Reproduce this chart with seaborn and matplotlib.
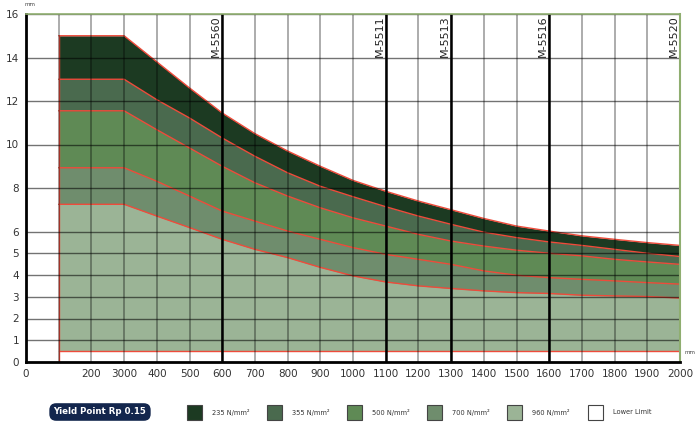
import numpy as np
import pandas as pd
import matplotlib.pyplot as plt
import seaborn as sns
from matplotlib.patches import Rectangle

# thickness limits (mm) over width (mm)
width_mm = [100, 300, 400, 500, 600, 700, 800, 900, 1000, 1100,
            1200, 1300, 1400, 1500, 1600, 1700, 1800, 1900, 2000]
t_235 = [15.0, 15.0, 13.8, 12.6, 11.45, 10.5, 9.7, 9.0, 8.35, 7.85,
         7.4, 7.0, 6.6, 6.25, 6.02, 5.8, 5.64, 5.49, 5.36]
t_355 = [13.0, 13.0, 12.06, 11.22, 10.3, 9.46, 8.7, 8.08, 7.6, 7.14,
         6.71, 6.33, 5.97, 5.72, 5.52, 5.36, 5.18, 5.0, 4.85]
t_500 = [11.55, 11.55, 10.68, 9.84, 9.0, 8.24, 7.63, 7.09, 6.63, 6.25,
         5.87, 5.56, 5.33, 5.14, 5.0, 4.88, 4.72, 4.6, 4.49]
t_700 = [8.93, 8.93, 8.31, 7.63, 6.94, 6.48, 6.02, 5.64, 5.26, 4.95,
         4.72, 4.49, 4.19, 3.99, 3.88, 3.8, 3.73, 3.65, 3.58]
t_960 = [7.25, 7.25, 6.71, 6.18, 5.64, 5.18, 4.8, 4.35, 3.96, 3.68,
         3.5, 3.38, 3.27, 3.19, 3.15, 3.07, 3.04, 3.01, 2.94]
lower_limit = 0.5

grades = ['235 N/mm²', '355 N/mm²', '500 N/mm²', '700 N/mm²', '960 N/mm²']
grade_colors = ['#1c3a22', '#4a6a4e', '#5f8a55', '#6f8d6d', '#9bb496']

machines = ['M-5560', 'M-5511', 'M-5513', 'M-5516', 'M-5520']
machine_pos = [600, 1100, 1300, 1600, 2000]

x_ticks = list(range(0, 2001, 100))
x_labels = ['0', '', '200', '3000', '400', '500', '600', '700', '800', '900', '1000',
            '1100', '1200', '1300', '1400', '1500', '1600', '1700', '1800', '1900', '2000']
y_ticks = [0, 1, 2, 3, 4, 5, 6, 8, 10, 12, 14, 16]

df = pd.DataFrame({'width': width_mm * 5,
                   'thick': t_235 + t_355 + t_500 + t_700 + t_960,
                   'grade': sum([[g] * len(width_mm) for g in grades], [])})

sns.set_style('white')
plt.rcParams['font.family'] = ['DejaVu Sans']

fig = plt.figure(figsize=(6.97, 4.26), dpi=100)
ax = fig.add_axes([26 / 697, 1 - 362 / 426, 654 / 697, 348 / 426])

red = '#ee4b3b'
# filled bands, biggest first so the next one covers it
for g, c in zip(grades, grade_colors):
    sub = df[df.grade == g]
    ax.fill_between(sub.width, lower_limit, sub.thick, color=c, lw=0, zorder=1)
ax.fill_between(width_mm, 0, lower_limit, color='white', lw=0, zorder=1)

sns.lineplot(data=df, x='width', y='thick', hue='grade',
             palette=[red] * 5, lw=1.0, legend=False, ax=ax, zorder=2)
ax.plot([width_mm[0], width_mm[-1]], [lower_limit, lower_limit], color=red, lw=1.0, zorder=2)
ax.plot([width_mm[0], width_mm[0]], [0, t_235[0]], color=red, lw=1.0, zorder=2)

ax.set_xlim(0, 2000)
ax.set_ylim(0, 16)
ax.set_xticks(x_ticks)
ax.set_xticklabels(x_labels)
ax.set_yticks(y_ticks)
ax.tick_params(length=0, labelsize=7.5, labelcolor='#333333')
ax.tick_params(axis='x', pad=5)
ax.tick_params(axis='y', pad=5)
ax.set_xlabel('')
ax.set_ylabel('')

# grid drawn on top of the bands
for xv in x_ticks[1:]:
    ax.axvline(xv, color='black', alpha=0.35, lw=1.3, zorder=3)
for yv in y_ticks[1:]:
    ax.axhline(yv, color='black', alpha=0.55, lw=1.0, zorder=3)

for m, xv in zip(machines, machine_pos):
    ax.axvline(xv, color='black', lw=1.8, zorder=4)
    ax.text(xv - 4, 15.95, m, rotation=90, ha='right', va='top', fontsize=8, color='#222222', zorder=5)

ax.spines['left'].set_color('black')
ax.spines['left'].set_linewidth(2)
ax.spines['bottom'].set_color('black')
ax.spines['bottom'].set_linewidth(2)
ax.spines['top'].set_color('#8fae70')
ax.spines['right'].set_color('#8fae70')
ax.spines['top'].set_linewidth(1.2)
ax.spines['right'].set_linewidth(1.5)
for s in ax.spines.values():
    s.set_zorder(6)

fig.text(30 / 697, 1 - 5 / 426, 'mm', fontsize=4, color='#444444', ha='center', va='center')
fig.text(690 / 697, 1 - 353 / 426, 'mm', fontsize=4, color='#444444', ha='center', va='center')

# legend row
fig.text(100 / 697, 1 - 412 / 426, 'Yield Point Rp 0.15', fontsize=6.2, fontweight='bold',
         color='white', ha='center', va='center',
         bbox=dict(boxstyle='round,pad=0.5,rounding_size=0.8', fc='#13264d', ec='none'))

leg_labels = grades + ['Lower Limit']
leg_colors = grade_colors + ['white']
leg_x = [187, 267, 347, 427, 507, 588]
for lab, c, lx in zip(leg_labels, leg_colors, leg_x):
    fig.add_artist(Rectangle((lx / 697, 1 - 420 / 426), 15 / 697, 15 / 426,
                             transform=fig.transFigure, fc=c, ec='#444444', lw=0.8))
    fig.text((lx + 25) / 697, 1 - 412.5 / 426, lab, fontsize=4.8, color='#333333', va='center')

fig.savefig('out.png', dpi=100)
